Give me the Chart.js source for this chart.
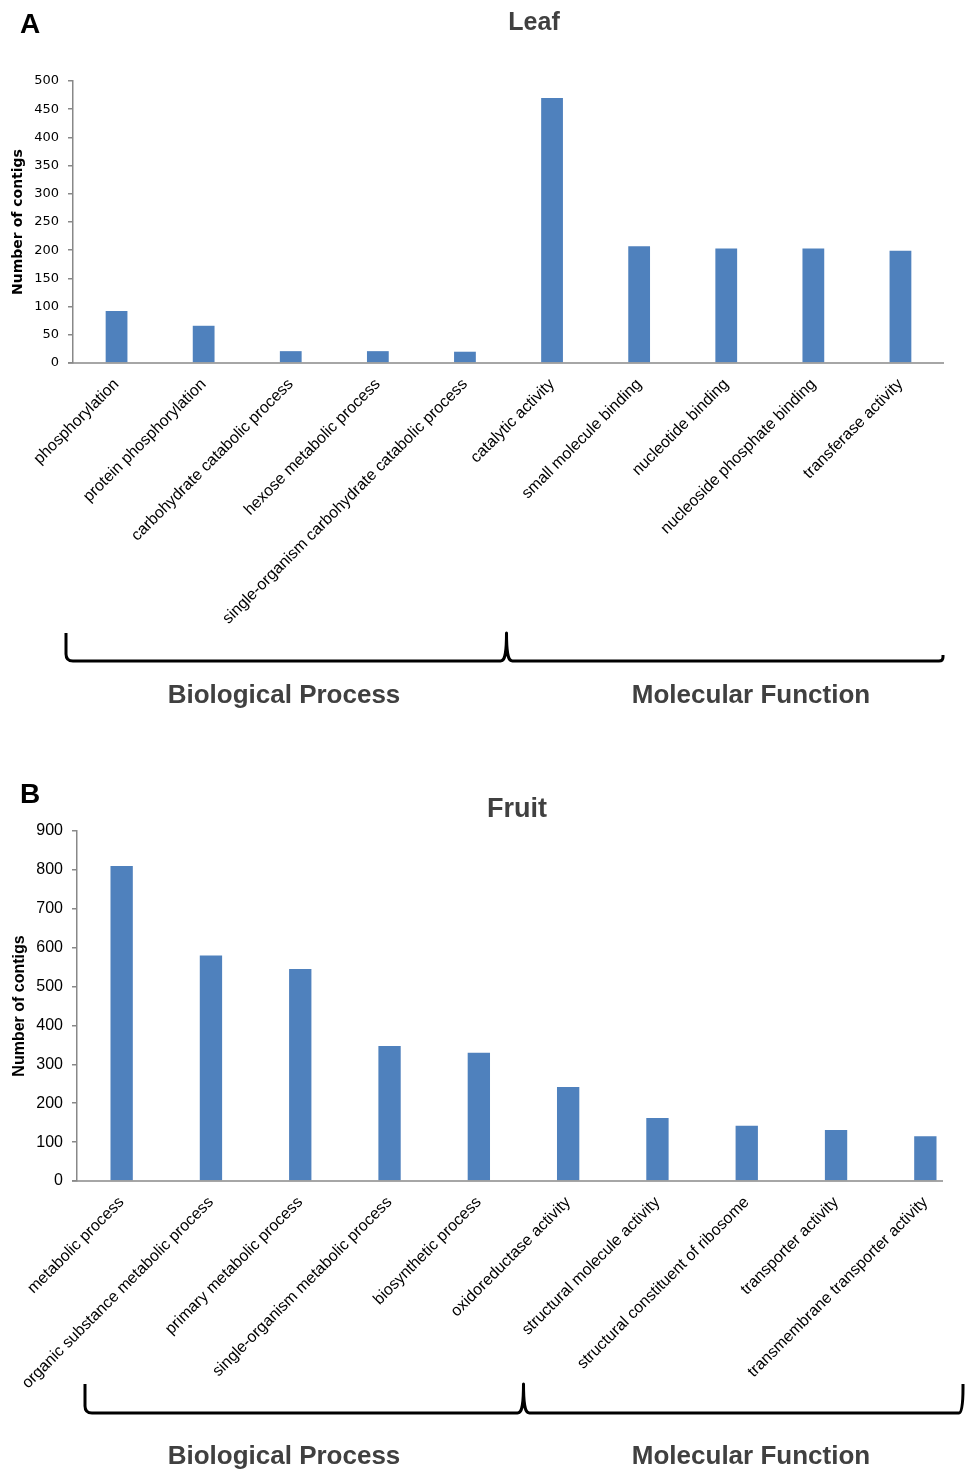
<!DOCTYPE html>
<html>
<head>
<meta charset="utf-8">
<script src="https://cdn.jsdelivr.net/npm/chart.js@4"></script>
<style>
  body { margin: 0; background: #fff; }
  .panel { position: relative; width: 969px; overflow: hidden; }
  canvas { display: block; }
</style>
</head>
<body>
<div class="panel"><canvas id="leafChart" width="969" height="740"></canvas></div>
<div class="panel"><canvas id="fruitChart" width="1000" height="730"></canvas></div>
<script>
const LEAF_LABELS = [
  'phosphorylation',
  'protein phosphorylation',
  'carbohydrate catabolic process',
  'hexose metabolic process',
  'single-organism carbohydrate catabolic process',
  'catalytic activity',
  'small molecule binding',
  'nucleotide binding',
  'nucleoside phosphate binding',
  'transferase activity'
];
const LEAF_VALUES = [92, 66, 21, 21, 20, 470, 207, 203, 203, 199];

const FRUIT_LABELS = [
  'metabolic process',
  'organic substance metabolic process',
  'primary metabolic process',
  'single-organism metabolic process',
  'biosynthetic process',
  'oxidoreductase activity',
  'structural molecule activity',
  'structural constituent of ribosome',
  'transporter activity',
  'transmembrane transporter activity'
];
const FRUIT_VALUES = [810, 580, 545, 347, 330, 242, 162, 142, 131, 115];

const LEAF_Y_MAX = 500, LEAF_Y_STEP = 50;
const FRUIT_Y_MAX = 900, FRUIT_Y_STEP = 100;

const GROUP_NAMES = ['Biological Process', 'Molecular Function'];
const GROUP_SIZES = [5, 5];

const BAR_COLOR = '#4F81BD';
const AXIS_COLOR = '#888888';

/*---- drawing -----------------------*/
let boundaryPx = (scale, idx) => {
  // pixel between category idx-1 and idx
  let half = (scale.right - scale.left) / scale.ticks.length / 2;
  return scale.getPixelForValue(idx) - half;
}

let drawBrace = (ctx, L, M, R, top, bottom, rightTop) => {
  ctx.save();
  ctx.strokeStyle = '#000';
  ctx.lineWidth = 3;
  ctx.lineJoin = 'round';
  ctx.beginPath();
  ctx.moveTo(L, top);
  ctx.lineTo(L, bottom - 7);
  ctx.quadraticCurveTo(L, bottom, L + 7, bottom);
  ctx.lineTo(M - 6, bottom);
  ctx.bezierCurveTo(M - 2, bottom, M, bottom - 5, M, top);
  ctx.bezierCurveTo(M, bottom - 5, M + 2, bottom, M + 6, bottom);
  ctx.lineTo(R - 4, bottom);
  ctx.quadraticCurveTo(R, bottom, R, Math.min(bottom - 4, rightTop + 4));
  ctx.lineTo(R, rightTop);
  ctx.stroke();
  ctx.restore();
}

let decorPlugin = (cfg) => {
  return {
    id: 'decor',
    afterDraw: (chart) => {
      let ctx = chart.ctx;
      let x = chart.scales.x;
      ctx.save();

      // x axis line (cut short on the fruit panel, like the original)
      let axisEnd = cfg.axisEnd || x.right;
      ctx.strokeStyle = AXIS_COLOR;
      ctx.lineWidth = 1.5;
      ctx.beginPath();
      ctx.moveTo(x.left - 5, x.top);
      ctx.lineTo(axisEnd, x.top);
      ctx.stroke();

      ctx.textBaseline = 'alphabetic';
      ctx.fillStyle = '#000';
      ctx.textAlign = 'left';
      ctx.font = 'bold 28px "Liberation Sans", Arial, sans-serif';
      ctx.fillText(cfg.letter, 20, cfg.letterY);

      ctx.fillStyle = '#404040';
      ctx.textAlign = 'center';
      ctx.font = 'bold ' + cfg.titleSize + 'px "Liberation Sans", Arial, sans-serif';
      ctx.fillText(cfg.title, cfg.titleX, cfg.titleY);

      let L = x.left + cfg.braceInset[0];
      let M = boundaryPx(x, GROUP_SIZES[0]) + cfg.braceInset[1];
      let R = x.right + cfg.braceInset[2];
      drawBrace(ctx, L, M, R, cfg.braceTop, cfg.braceBottom, cfg.braceRightTop);

      ctx.font = 'bold 26px "Liberation Sans", Arial, sans-serif';
      ctx.fillText(GROUP_NAMES[0], 284, cfg.groupY);
      ctx.fillText(GROUP_NAMES[1], 751, cfg.groupY);
      ctx.restore();
    }
  };
}

let generateChart = (id, labels, values, opt) => {
  return new Chart(document.getElementById(id), {
    type: 'bar',
    data: {
      labels: labels,
      datasets: [{
        data: values,
        backgroundColor: BAR_COLOR,
        borderWidth: 0,
        barPercentage: 0.25,
        categoryPercentage: 1.0
      }]
    },
    options: {
      responsive: false,
      animation: false,
      layout: {padding: opt.padding},
      plugins: {legend: {display: false}, tooltip: {enabled: false}},
      scales: {
        x: {
          ticks: {
            autoSkip: false,
            maxRotation: 45,
            minRotation: 45,
            padding: 12,
            color: '#000',
            font: {family: '"Liberation Sans", Arial, sans-serif', size: 16}
          },
          grid: {display: false, drawTicks: false},
          border: {display: false},
          afterFit: (s) => { s.height = opt.xHeight; s.paddingLeft = 0; s.paddingRight = 0; }
        },
        y: {
          min: 0,
          max: opt.yMax,
          ticks: {stepSize: opt.yStep, padding: 9, color: '#000', font: opt.tickFont},
          grid: {drawOnChartArea: false, drawTicks: true, tickLength: 5, color: AXIS_COLOR, lineWidth: 1.5},
          border: {color: AXIS_COLOR, width: 1.5},
          title: {
            display: true,
            text: 'Number of contigs',
            color: '#000',
            font: opt.titleFont,
            padding: {top: 10, bottom: 0}
          },
          afterFit: (s) => { s.width = opt.yWidth; }
        }
      }
    },
    plugins: [decorPlugin(opt.decor)]
  });
}

generateChart('leafChart', LEAF_LABELS, LEAF_VALUES, {
  padding: {top: 81, right: 25, bottom: 77, left: 0},
  xHeight: 300,
  yWidth: 73,
  yMax: LEAF_Y_MAX,
  yStep: LEAF_Y_STEP,
  tickFont: {family: '"DejaVu Sans", Verdana, sans-serif', size: 13},
  titleFont: {family: '"DejaVu Sans", Verdana, sans-serif', size: 14, weight: 'bold'},
  decor: {
    letter: 'A', letterY: 33,
    title: 'Leaf', titleSize: 25, titleX: 534, titleY: 30,
    braceInset: [-7, -2, -1], braceTop: 633, braceBottom: 661, braceRightTop: 655,
    groupY: 703
  }
});

generateChart('fruitChart', FRUIT_LABELS, FRUIT_VALUES, {
  padding: {top: 91, right: 30, bottom: 24, left: 0},
  xHeight: 265,
  yWidth: 77,
  yMax: FRUIT_Y_MAX,
  yStep: FRUIT_Y_STEP,
  tickFont: {family: '"Liberation Sans", Arial, sans-serif', size: 16},
  titleFont: {family: '"Liberation Sans", Arial, sans-serif', size: 16, weight: 'bold'},
  decor: {
    letter: 'B', letterY: 63,
    title: 'Fruit', titleSize: 27, titleX: 517, titleY: 77,
    axisEnd: 943,
    braceInset: [8, 0, -7], braceTop: 644, braceBottom: 673, braceRightTop: 644,
    groupY: 724
  }
});
</script>
</body>
</html>
